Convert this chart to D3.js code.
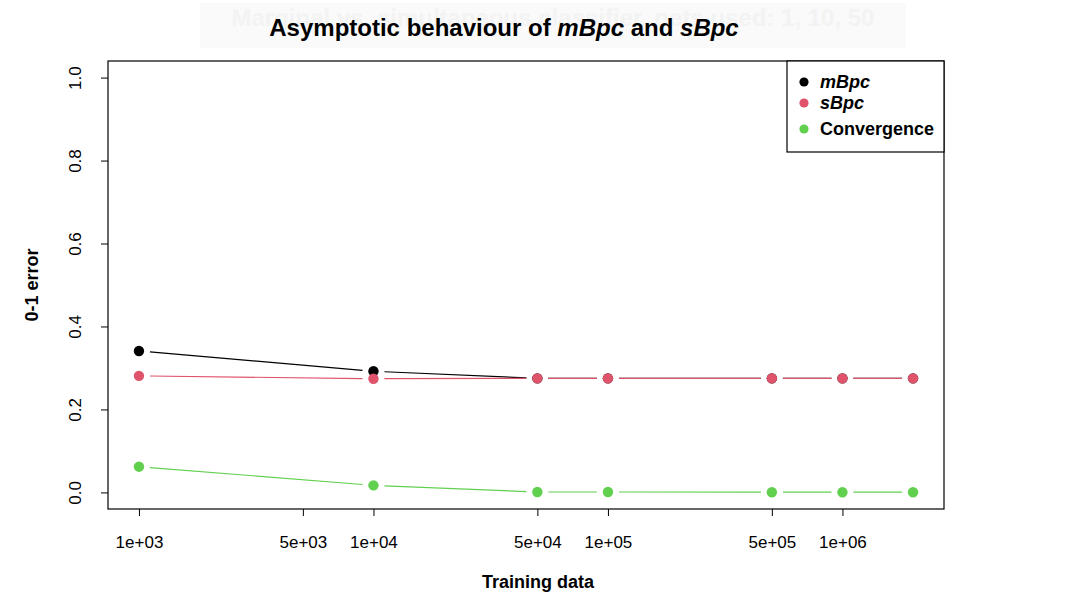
<!DOCTYPE html>
<html>
<head>
<meta charset="utf-8">
<script src="https://cdn.jsdelivr.net/npm/d3@7.9.0/dist/d3.min.js"></script>
<style>
  body { margin: 0; background: #fff; }
  svg { font-family: "Liberation Sans", Arial, Helvetica, sans-serif; }
</style>
</head>
<body>
<svg id="chart" width="1077" height="601"></svg>
<script>
const trainSizes = [1e3, 1e4, 5e4, 1e5, 5e5, 1e6, 2e6];
const mBpc = [0.341, 0.292, 0.275, 0.275, 0.275, 0.275, 0.275];
const sBpc = [0.281, 0.274, 0.275, 0.275, 0.275, 0.275, 0.275];
const convergence = [0.062, 0.017, 0.001, 0.001, 0.0005, 0.0005, 0.0005];
const xTicks = [1e3, 5e3, 1e4, 5e4, 1e5, 5e5, 1e6];
const yTicks = [0, 0.2, 0.4, 0.6, 0.8, 1.0];

const series = [
  { name: 'mBpc', values: mBpc, color: '#000000', italic: true },
  { name: 'sBpc', values: sBpc, color: '#DF536B', italic: true },
  { name: 'Convergence', values: convergence, color: '#61D04F', italic: false }
];

const svg = d3.select('#chart');
const box = { left: 108, right: 944, top: 61, bottom: 509 };

// R style 4% padding on both axes
const lx = [Math.log10(1e3), Math.log10(2e6)];
const px = (lx[1] - lx[0]) * 0.04;
const x = d3.scaleLog()
  .domain([Math.pow(10, lx[0] - px), Math.pow(10, lx[1] + px)])
  .range([box.left, box.right]);
const y = d3.scaleLinear()
  .domain([-0.04, 1.04])
  .range([box.bottom, box.top]);

// faint ghost title behind the real one
svg.append('rect')
  .attr('x', 200).attr('y', 3).attr('width', 706).attr('height', 45)
  .attr('fill', '#fafafa');
svg.append('text')
  .attr('x', 553).attr('y', 26)
  .attr('text-anchor', 'middle')
  .attr('font-size', 24).attr('font-weight', 'bold')
  .attr('fill', '#f3f3f3')
  .text('Marginal vs. simultaneous classifier, nets used: 1, 10, 50');

// title
const title = svg.append('text')
  .attr('x', 504).attr('y', 36)
  .attr('text-anchor', 'middle')
  .attr('font-size', 24).attr('font-weight', 'bold');
title.append('tspan').text('Asymptotic behaviour of ');
title.append('tspan').attr('font-style', 'italic').text('mBpc');
title.append('tspan').text(' and ');
title.append('tspan').attr('font-style', 'italic').text('sBpc');

// axes
const xAxis = d3.axisBottom(x)
  .tickValues(xTicks)
  .tickSize(7)
  .tickPadding(20)
  .tickFormat(d => d3.format('.0e')(d).replace(/e([+-])(\d)$/, 'e$10$2'));
const gx = svg.append('g')
  .attr('transform', `translate(0,${box.bottom})`)
  .call(xAxis);
gx.select('.domain').remove();
gx.selectAll('.tick line').attr('stroke', '#000');
gx.selectAll('.tick text').attr('font-size', 17).attr('fill', '#000');

const yAxis = d3.axisLeft(y)
  .tickValues(yTicks)
  .tickSize(7)
  .tickFormat(d3.format('.1f'));
const gy = svg.append('g')
  .attr('transform', `translate(${box.left},0)`)
  .call(yAxis);
gy.select('.domain').remove();
gy.selectAll('.tick line').attr('stroke', '#000');
gy.selectAll('.tick text')
  .attr('font-size', 17).attr('fill', '#000')
  .attr('text-anchor', 'middle')
  .attr('x', null).attr('dy', null)
  .attr('transform', 'translate(-33,0) rotate(-90)')
  .attr('dominant-baseline', 'central');

// plot box
svg.append('rect')
  .attr('x', box.left).attr('y', box.top)
  .attr('width', box.right - box.left).attr('height', box.bottom - box.top)
  .attr('fill', 'none').attr('stroke', '#000').attr('stroke-width', 1.2);

// axis labels
svg.append('text')
  .attr('transform', 'translate(38,285) rotate(-90)')
  .attr('text-anchor', 'middle')
  .attr('font-size', 18).attr('font-weight', 'bold')
  .text('0-1 error');
svg.append('text')
  .attr('x', 538).attr('y', 588)
  .attr('text-anchor', 'middle')
  .attr('font-size', 18).attr('font-weight', 'bold')
  .text('Training data');

// type = "b": segments with gaps around points
const gap = 11;
series.forEach(s => {
  const pts = trainSizes.map((t, i) => [x(t), y(s.values[i])]);
  const g = svg.append('g');
  for (let i = 0; i < pts.length - 1; i++) {
    const [x1, y1] = pts[i], [x2, y2] = pts[i + 1];
    const len = Math.hypot(x2 - x1, y2 - y1);
    if (len <= 2 * gap) continue;
    const ux = (x2 - x1) / len, uy = (y2 - y1) / len;
    g.append('line')
      .attr('x1', x1 + ux * gap).attr('y1', y1 + uy * gap)
      .attr('x2', x2 - ux * gap).attr('y2', y2 - uy * gap)
      .attr('stroke', s.color).attr('stroke-width', 1.2);
  }
  g.selectAll('circle')
    .data(pts)
    .join('circle')
    .attr('cx', d => d[0]).attr('cy', d => d[1])
    .attr('r', 5.2)
    .attr('fill', s.color);
});

// legend
const legend = svg.append('g');
legend.append('rect')
  .attr('x', 787).attr('y', 61).attr('width', 157).attr('height', 91)
  .attr('fill', '#fff').attr('stroke', '#000').attr('stroke-width', 1.2);
const legendY = [82, 103, 129];
series.forEach((s, i) => {
  legend.append('circle')
    .attr('cx', 804).attr('cy', legendY[i]).attr('r', 4.6)
    .attr('fill', s.color);
  legend.append('text')
    .attr('x', 820).attr('y', legendY[i])
    .attr('dominant-baseline', 'central')
    .attr('font-size', 18).attr('font-weight', 'bold')
    .attr('font-style', s.italic ? 'italic' : 'normal')
    .text(s.name);
});
</script>
</body>
</html>
